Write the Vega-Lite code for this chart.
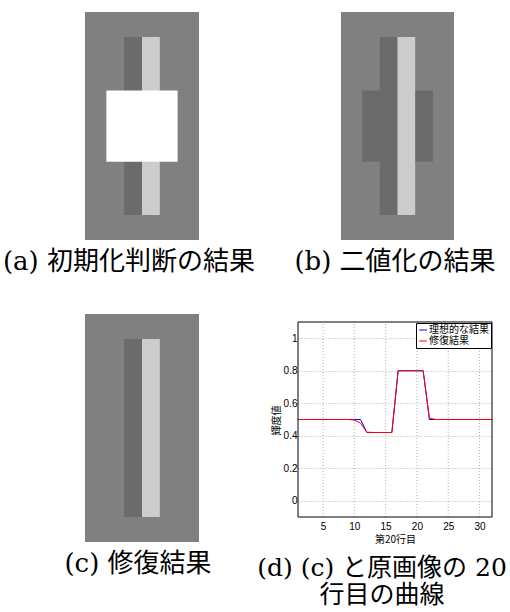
{
  "$schema": "https://vega.github.io/schema/vega-lite/v6.json",
  "background": "white",
  "padding": {"left": 2, "top": 12, "right": 0, "bottom": 0},
  "columns": 2,
  "bounds": "flush",
  "align": "each",
  "spacing": {"row": 74, "column": 99},
  "config": {
    "view": {"stroke": null},
    "title": {
      "font": "'DejaVu Serif', 'Noto Sans CJK JP'",
      "fontSize": 26,
      "fontWeight": "normal",
      "color": "black",
      "orient": "bottom",
      "anchor": "middle",
      "frame": "group",
      "offset": 9
    },
    "axis": {
      "labelFont": "Liberation Sans",
      "labelFontSize": 10,
      "labelColor": "black",
      "labelOverlap": false,
      "titleFont": "Noto Sans CJK JP",
      "titleFontSize": 10,
      "titleFontWeight": "normal",
      "titleColor": "black",
      "gridColor": "#b0b0b0",
      "gridDash": [1, 2],
      "domain": false,
      "ticks": false
    }
  },
  "concat": [
    {
      "width": 114,
      "height": 228,
      "title": {"text": "(a) 初期化判断の結果", "dx": -13},
      "data": {"values": [
        {"x0": 0, "x1": 32, "y0": 0, "y1": 64, "v": 0.5},
        {"x0": 11, "x1": 16, "y0": 7, "y1": 57, "v": 0.42},
        {"x0": 16, "x1": 21, "y0": 7, "y1": 57, "v": 0.8},
        {"x0": 6, "x1": 26, "y0": 22, "y1": 42, "v": 1}
      ]},
      "mark": {"type": "rect", "strokeWidth": 0},
      "encoding": {
        "x": {"field": "x0", "type": "quantitative", "scale": {"domain": [0, 32], "nice": false, "zero": false}, "axis": null},
        "x2": {"field": "x1"},
        "y": {"field": "y0", "type": "quantitative", "scale": {"domain": [0, 64], "reverse": true, "nice": false, "zero": false}, "axis": null},
        "y2": {"field": "y1"},
        "color": {"field": "v", "type": "quantitative", "scale": {"domain": [0, 1], "range": ["#000000", "#ffffff"], "interpolate": "rgb"}, "legend": null}
      }
    },
    {
      "width": 156,
      "height": 228,
      "title": {"text": "(b) 二値化の結果", "dx": 19},
      "data": {"values": [
        {"x0": 0, "x1": 32, "y0": 0, "y1": 64, "v": 0.5},
        {"x0": 11, "x1": 16, "y0": 7, "y1": 57, "v": 0.42},
        {"x0": 6, "x1": 26, "y0": 22, "y1": 42, "v": 0.42},
        {"x0": 16, "x1": 21, "y0": 7, "y1": 57, "v": 0.8}
      ]},
      "mark": {"type": "rect", "strokeWidth": 0},
      "encoding": {
        "x": {"field": "x0", "type": "quantitative", "scale": {"domain": [-12.18, 32], "nice": false, "zero": false}, "axis": null},
        "x2": {"field": "x1"},
        "y": {"field": "y0", "type": "quantitative", "scale": {"domain": [0, 64], "reverse": true, "nice": false, "zero": false}, "axis": null},
        "y2": {"field": "y1"},
        "color": {"field": "v", "type": "quantitative", "scale": {"domain": [0, 1], "range": ["#000000", "#ffffff"], "interpolate": "rgb"}, "legend": null}
      }
    },
    {
      "width": 114,
      "height": 228,
      "title": {"text": "(c) 修復結果", "dx": -4},
      "data": {"values": [
        {"x0": 0, "x1": 32, "y0": 0, "y1": 64, "v": 0.5},
        {"x0": 11, "x1": 16, "y0": 7, "y1": 57, "v": 0.42},
        {"x0": 16, "x1": 21, "y0": 7, "y1": 57, "v": 0.8}
      ]},
      "mark": {"type": "rect", "strokeWidth": 0},
      "encoding": {
        "x": {"field": "x0", "type": "quantitative", "scale": {"domain": [0, 32], "nice": false, "zero": false}, "axis": null},
        "x2": {"field": "x1"},
        "y": {"field": "y0", "type": "quantitative", "scale": {"domain": [0, 64], "reverse": true, "nice": false, "zero": false}, "axis": null},
        "y2": {"field": "y1"},
        "color": {"field": "v", "type": "quantitative", "scale": {"domain": [0, 1], "range": ["#000000", "#ffffff"], "interpolate": "rgb"}, "legend": null}
      }
    },
    {
      "width": 194,
      "height": 203,
      "title": {"text": ["(d) (c) と原画像の 20", "行目の曲線"], "fontSize": 25, "lineHeight": 27, "offset": 12, "dx": -13},
      "data": {"values": [
        {"series": "理想的な結果", "col": 1, "value": 0.5},
        {"series": "理想的な結果", "col": 2, "value": 0.5},
        {"series": "理想的な結果", "col": 3, "value": 0.5},
        {"series": "理想的な結果", "col": 4, "value": 0.5},
        {"series": "理想的な結果", "col": 5, "value": 0.5},
        {"series": "理想的な結果", "col": 6, "value": 0.5},
        {"series": "理想的な結果", "col": 7, "value": 0.5},
        {"series": "理想的な結果", "col": 8, "value": 0.5},
        {"series": "理想的な結果", "col": 9, "value": 0.5},
        {"series": "理想的な結果", "col": 10, "value": 0.5},
        {"series": "理想的な結果", "col": 11, "value": 0.5},
        {"series": "理想的な結果", "col": 12, "value": 0.42},
        {"series": "理想的な結果", "col": 13, "value": 0.42},
        {"series": "理想的な結果", "col": 14, "value": 0.42},
        {"series": "理想的な結果", "col": 15, "value": 0.42},
        {"series": "理想的な結果", "col": 16, "value": 0.42},
        {"series": "理想的な結果", "col": 17, "value": 0.8},
        {"series": "理想的な結果", "col": 18, "value": 0.8},
        {"series": "理想的な結果", "col": 19, "value": 0.8},
        {"series": "理想的な結果", "col": 20, "value": 0.8},
        {"series": "理想的な結果", "col": 21, "value": 0.8},
        {"series": "理想的な結果", "col": 22, "value": 0.5},
        {"series": "理想的な結果", "col": 23, "value": 0.5},
        {"series": "理想的な結果", "col": 24, "value": 0.5},
        {"series": "理想的な結果", "col": 25, "value": 0.5},
        {"series": "理想的な結果", "col": 26, "value": 0.5},
        {"series": "理想的な結果", "col": 27, "value": 0.5},
        {"series": "理想的な結果", "col": 28, "value": 0.5},
        {"series": "理想的な結果", "col": 29, "value": 0.5},
        {"series": "理想的な結果", "col": 30, "value": 0.5},
        {"series": "理想的な結果", "col": 31, "value": 0.5},
        {"series": "理想的な結果", "col": 32, "value": 0.5},
        {"series": "修復結果", "col": 1, "value": 0.5},
        {"series": "修復結果", "col": 2, "value": 0.5},
        {"series": "修復結果", "col": 3, "value": 0.5},
        {"series": "修復結果", "col": 4, "value": 0.5},
        {"series": "修復結果", "col": 5, "value": 0.5},
        {"series": "修復結果", "col": 6, "value": 0.5},
        {"series": "修復結果", "col": 7, "value": 0.5},
        {"series": "修復結果", "col": 8, "value": 0.5},
        {"series": "修復結果", "col": 9, "value": 0.5},
        {"series": "修復結果", "col": 10, "value": 0.497},
        {"series": "修復結果", "col": 11, "value": 0.478},
        {"series": "修復結果", "col": 12, "value": 0.422},
        {"series": "修復結果", "col": 13, "value": 0.42},
        {"series": "修復結果", "col": 14, "value": 0.42},
        {"series": "修復結果", "col": 15, "value": 0.42},
        {"series": "修復結果", "col": 16, "value": 0.42},
        {"series": "修復結果", "col": 17, "value": 0.8},
        {"series": "修復結果", "col": 18, "value": 0.8},
        {"series": "修復結果", "col": 19, "value": 0.8},
        {"series": "修復結果", "col": 20, "value": 0.8},
        {"series": "修復結果", "col": 21, "value": 0.8},
        {"series": "修復結果", "col": 22, "value": 0.508},
        {"series": "修復結果", "col": 23, "value": 0.5},
        {"series": "修復結果", "col": 24, "value": 0.5},
        {"series": "修復結果", "col": 25, "value": 0.5},
        {"series": "修復結果", "col": 26, "value": 0.5},
        {"series": "修復結果", "col": 27, "value": 0.5},
        {"series": "修復結果", "col": 28, "value": 0.5},
        {"series": "修復結果", "col": 29, "value": 0.5},
        {"series": "修復結果", "col": 30, "value": 0.5},
        {"series": "修復結果", "col": 31, "value": 0.5},
        {"series": "修復結果", "col": 32, "value": 0.5}
      ]},
      "layer": [
        {
          "data": {"values": [{"gx": 5}, {"gx": 10}, {"gx": 15}, {"gx": 20}, {"gx": 25}, {"gx": 30}]},
          "mark": {"type": "rule", "stroke": "#b0b0b0", "strokeDash": [1, 2], "strokeWidth": 1},
          "encoding": {
            "x": {
              "field": "gx", "type": "quantitative",
              "scale": {"domain": [1, 32], "nice": false, "zero": false},
              "axis": {"values": [5, 10, 15, 20, 25, 30], "title": "第20行目", "grid": false, "labelPadding": 4, "titlePadding": 3}
            },
            "y": {
              "datum": -0.1, "type": "quantitative",
              "scale": {"domain": [-0.1, 1.1492], "nice": false, "zero": false},
              "axis": {"values": [0, 0.2, 0.4, 0.6, 0.8, 1], "format": "~g", "title": "輝度値", "grid": true, "labelPadding": 1, "titlePadding": 2, "titleY": 106}
            },
            "y2": {"datum": 1.1}
          }
        },
        {
          "transform": [{"filter": "datum.series === '理想的な結果'"}],
          "mark": {"type": "line", "strokeWidth": 1, "clip": true},
          "encoding": {
            "x": {
              "field": "col", "type": "quantitative",
              "scale": {"domain": [1, 32], "nice": false, "zero": false},
              "axis": {"values": [5, 10, 15, 20, 25, 30], "title": "第20行目", "grid": false, "labelPadding": 4, "titlePadding": 3}
            },
            "y": {
              "field": "value", "type": "quantitative",
              "scale": {"domain": [-0.1, 1.1492], "nice": false, "zero": false},
              "axis": {"values": [0, 0.2, 0.4, 0.6, 0.8, 1], "format": "~g", "title": "輝度値", "grid": true, "labelPadding": 1, "titlePadding": 2, "titleY": 106}
            },
            "color": {
              "field": "series", "type": "nominal",
              "scale": {"domain": ["理想的な結果", "修復結果"], "range": ["#0000ff", "#ff0000"]},
              "legend": {
                "orient": "none", "legendX": 118, "legendY": 9, "title": null,
                "strokeColor": "black", "fillColor": "white", "padding": 2, "cornerRadius": 0,
                "symbolType": "stroke", "symbolSize": 60, "symbolStrokeWidth": 1,
                "labelFont": "Noto Sans CJK JP", "labelFontSize": 10, "labelColor": "black",
                "rowPadding": 1, "labelOffset": 1
              }
            }
          }
        },
        {
          "transform": [{"filter": "datum.series === '修復結果'"}],
          "mark": {"type": "line", "strokeWidth": 1, "clip": true},
          "encoding": {
            "x": {
              "field": "col", "type": "quantitative",
              "scale": {"domain": [1, 32], "nice": false, "zero": false},
              "axis": {"values": [5, 10, 15, 20, 25, 30], "title": "第20行目", "grid": false, "labelPadding": 4, "titlePadding": 3}
            },
            "y": {
              "field": "value", "type": "quantitative",
              "scale": {"domain": [-0.1, 1.1492], "nice": false, "zero": false},
              "axis": {"values": [0, 0.2, 0.4, 0.6, 0.8, 1], "format": "~g", "title": "輝度値", "grid": true, "labelPadding": 1, "titlePadding": 2, "titleY": 106}
            },
            "color": {
              "field": "series", "type": "nominal",
              "scale": {"domain": ["理想的な結果", "修復結果"], "range": ["#0000ff", "#ff0000"]},
              "legend": {
                "orient": "none", "legendX": 118, "legendY": 9, "title": null,
                "strokeColor": "black", "fillColor": "white", "padding": 2, "cornerRadius": 0,
                "symbolType": "stroke", "symbolSize": 60, "symbolStrokeWidth": 1,
                "labelFont": "Noto Sans CJK JP", "labelFontSize": 10, "labelColor": "black",
                "rowPadding": 1, "labelOffset": 1
              }
            }
          }
        },
        {
          "data": {"values": [{}]},
          "mark": {"type": "rect", "fill": null, "stroke": "black", "strokeWidth": 1},
          "encoding": {
            "x": {
              "datum": 1, "type": "quantitative",
              "scale": {"domain": [1, 32], "nice": false, "zero": false},
              "axis": {"values": [5, 10, 15, 20, 25, 30], "title": "第20行目", "grid": false, "labelPadding": 4, "titlePadding": 3}
            },
            "x2": {"datum": 32},
            "y": {
              "datum": -0.1, "type": "quantitative",
              "scale": {"domain": [-0.1, 1.1492], "nice": false, "zero": false},
              "axis": {"values": [0, 0.2, 0.4, 0.6, 0.8, 1], "format": "~g", "title": "輝度値", "grid": true, "labelPadding": 1, "titlePadding": 2, "titleY": 106}
            },
            "y2": {"datum": 1.1}
          }
        }
      ]
    }
  ]
}
